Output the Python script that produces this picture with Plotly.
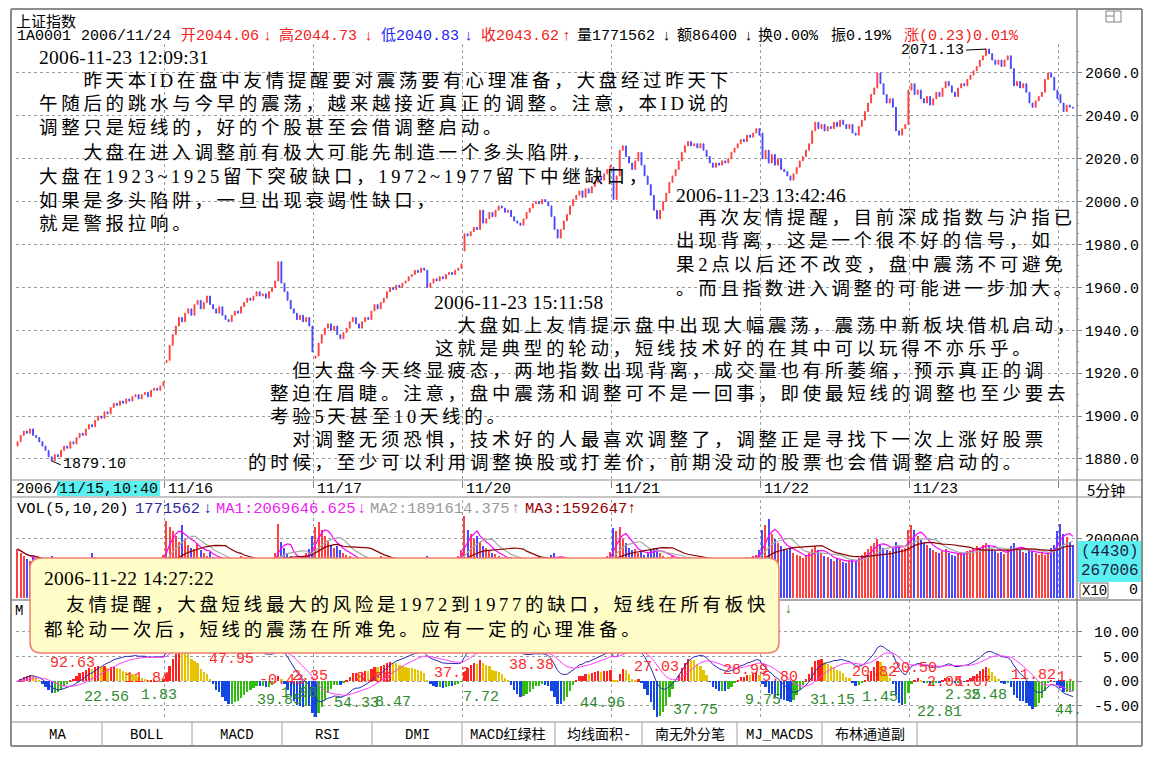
import numpy as np
import pandas as pd
import plotly.graph_objects as go

# page shows the figure with an 8px body margin, so the figure is a bit smaller
PAGE_OFF = 8
W, H = 1135, 741

# ------------------------------------------------------------------ data
day_names = ["11/15", "11/16", "11/17", "11/20", "11/21", "11/22", "11/23", "11/24"]
day_first_open = [1886.0, 1925.0, 1927.0, 1977.0, 2016.0, 2032.0, 2052.0, 2050.0]

close_1115 = [1888, 1891, 1893, 1892, 1894, 1891, 1890, 1888, 1886, 1884,
              1881, 1879.10, 1882, 1881, 1884, 1886, 1885, 1888, 1887, 1890,
              1892, 1891, 1894, 1896, 1895, 1898, 1900, 1899, 1902, 1901,
              1904, 1906, 1905, 1907, 1906, 1908, 1907, 1909, 1910, 1908,
              1910, 1911, 1909, 1912, 1913, 1912, 1914, 1916]
close_1116 = [1926, 1933, 1938, 1942, 1946, 1944, 1948, 1950, 1947, 1952,
              1954, 1950, 1953, 1956, 1952, 1950, 1948, 1951, 1947, 1945,
              1944, 1947, 1949, 1948, 1951, 1953, 1955, 1954, 1956, 1958,
              1956, 1957, 1955, 1958, 1960, 1963, 1972, 1962, 1958, 1954,
              1950, 1948, 1945, 1947, 1944, 1946, 1942, 1930]
close_1117 = [1928, 1934, 1938, 1941, 1943, 1940, 1942, 1938, 1936, 1939,
              1941, 1944, 1946, 1943, 1941, 1944, 1946, 1945, 1949, 1952,
              1950, 1953, 1955, 1958, 1960, 1959, 1961, 1960, 1962, 1963,
              1965, 1966, 1968, 1967, 1969, 1968, 1960, 1962, 1964, 1963,
              1965, 1964, 1966, 1967, 1966, 1968, 1969, 1971]
close_1120 = [1985, 1984, 1986, 1988, 1987, 1996, 1990, 1992, 1995, 1993,
              1996, 1998, 1997, 1995, 1996, 1993, 1991, 1990, 1989, 1992,
              1995, 1997, 1999, 2000, 1999, 2001, 2000, 1998, 1993, 1987,
              1983, 1987, 1991, 1994, 1998, 2001, 2003, 2005, 2002, 2006,
              2004, 2007, 2009, 2011, 2010, 2013, 2015, 2017]
close_1121 = [2001, 2012, 2024, 2026, 2021, 2018, 2015, 2019, 2023, 2017,
              2012, 2008, 2003, 1996, 1992, 1996, 2000, 2004, 2009, 2012,
              2015, 2019, 2023, 2026, 2028, 2026, 2027, 2025, 2027, 2024,
              2021, 2018, 2016, 2018, 2017, 2019, 2018, 2020, 2023, 2025,
              2027, 2029, 2028, 2031, 2030, 2032, 2034, 2031]
close_1122 = [2020, 2024, 2018, 2022, 2017, 2020, 2015, 2014, 2012, 2010,
              2013, 2016, 2019, 2021, 2024, 2027, 2033, 2037, 2034, 2036,
              2033, 2035, 2034, 2037, 2035, 2038, 2036, 2034, 2036, 2032,
              2031, 2035, 2038, 2042, 2046, 2050, 2053, 2060, 2055, 2050,
              2046, 2048, 2044, 2033, 2031, 2034, 2036, 2052]
close_1123 = [2055, 2050, 2052, 2048, 2046, 2049, 2045, 2048, 2051, 2049,
              2053, 2056, 2054, 2051, 2049, 2053, 2055, 2054, 2057, 2059,
              2061, 2063, 2066, 2068, 2071.13, 2069, 2066, 2064, 2066, 2063,
              2066, 2068, 2062, 2054, 2056, 2053, 2055, 2051, 2046, 2044,
              2047, 2049, 2051, 2057, 2060, 2058, 2052, 2048]
close_1124 = [2046, 2042, 2045, 2044.06, 2043.62]

vol_1115 = [165, 150, 142, 130, 125, 138, 120, 112, 118, 126,
            132, 140, 128, 115, 108, 112, 104, 98, 110, 102,
            96, 94, 105, 99, 150, 138, 126, 118, 112, 106,
            100, 96, 104, 98, 92, 95, 90, 97, 102, 94,
            98, 104, 108, 112, 118, 122, 130, 145]
vol_1116 = [260, 240, 225, 210, 190, 245, 200, 180, 170, 165,
            185, 160, 150, 142, 155, 138, 130, 126, 120, 132,
            118, 112, 124, 116, 140, 130, 122, 128, 118, 110,
            115, 108, 112, 120, 130, 150, 250, 190, 170, 150,
            140, 132, 128, 136, 140, 150, 165, 210]
vol_1117 = [240, 255, 230, 210, 195, 180, 170, 175, 160, 150,
            145, 140, 135, 128, 122, 130, 118, 112, 120, 125,
            135, 140, 130, 122, 132, 124, 118, 112, 108, 115,
            120, 112, 106, 110, 118, 125, 140, 128, 118, 112,
            108, 115, 120, 124, 130, 135, 142, 160]
vol_1120 = [275, 230, 215, 200, 210, 190, 175, 168, 160, 150,
            148, 140, 135, 130, 126, 138, 132, 125, 120, 128,
            135, 130, 122, 116, 140, 132, 126, 130, 145, 150,
            138, 130, 124, 120, 118, 115, 110, 114, 120, 116,
            112, 118, 124, 130, 126, 135, 140, 155]
vol_1121 = [235, 225, 240, 200, 185, 170, 160, 165, 150, 155,
            145, 150, 160, 170, 165, 150, 140, 135, 138, 142,
            135, 130, 125, 128, 132, 128, 120, 116, 112, 118,
            125, 120, 114, 110, 108, 112, 118, 115, 120, 126,
            130, 128, 134, 138, 132, 140, 145, 160]
vol_1122 = [230, 245, 265, 215, 200, 185, 175, 165, 160, 170,
            150, 145, 140, 135, 142, 150, 165, 175, 160, 150,
            142, 138, 130, 126, 132, 128, 122, 118, 124, 130,
            126, 135, 145, 155, 165, 175, 185, 200, 180, 170,
            160, 158, 170, 190, 175, 165, 170, 230]
vol_1123 = [245, 230, 210, 195, 185, 178, 170, 162, 155, 150,
            158, 165, 150, 145, 140, 148, 155, 150, 158, 162,
            170, 175, 168, 180, 185, 176, 165, 158, 150, 155,
            148, 160, 175, 185, 170, 162, 155, 150, 165, 158,
            150, 145, 152, 145, 155, 170, 180, 225]
vol_1124 = [250, 215, 205, 190, 177]

header_title = "上证指数"
header_parts = [("1A0001", "k"), ("2006/11/24", "k"),
                ("开2044.06", "r"), ("↓", "r"), ("高2044.73", "r"), ("↓", "r"),
                ("低2040.83", "b"), ("↓", "b"), ("收2043.62", "r"), ("↑", "r"),
                ("量1771562", "k"), ("↓", "k"), ("额86400", "k"), ("↓", "k"),
                ("换0.00%", "k"), ("振0.19%", "k"), ("涨(0.23)0.01%", "r")]
vol_title_parts = [("VOL(5,10,20)", "k"), ("1771562", "n"), ("↓", "n"),
                   ("MA1:2069646.625", "m"), ("↓", "m"), ("MA2:1891614.375", "g"),
                   ("↑", "g"), ("MA3:1592647", "d"), ("↑", "d")]
vol_axis_info = ["(4430)", "267006"]
vol_tick_text = "200000"
peak_label = "2071.13"
low_label = "1879.10"
period_label = "5分钟"
cursor_year = "2006/"
cursor_time = "11/15,10:40"

macd_red_labels = ["92.63", "11.84", "47.95", "-0.43", "2.35", "8.09", "37.3", "38.38",
                   "27.03", "28.99", "5.80", "20.82", "20.50", "2.05", "1.07", "11.82", "1."]
macd_green_labels = ["22.56", "1.83", "39.85", "1.96", "54.33", "8.47", "7.72", "44.96",
                     "37.75", "9.75", "31.15", "1.45", "22.81", "2.35", "2.48", "44."]

tab_names = ["MA", "BOLL", "MACD", "RSI", "DMI", "MACD红绿柱", "均线面积-",
             "南无外分笔", "MJ_MACDS", "布林通道副"]

note_a = ["2006-11-23 12:09:31",
          "\u3000\u3000昨天本ID在盘中友情提醒要对震荡要有心理准备，大盘经过昨天下",
          "午随后的跳水与今早的震荡，越来越接近真正的调整。注意，本ID说的",
          "调整只是短线的，好的个股甚至会借调整启动。",
          "\u3000\u3000大盘在进入调整前有极大可能先制造一个多头陷阱，",
          "大盘在1923~1925留下突破缺口，1972~1977留下中继缺口，",
          "如果是多头陷阱，一旦出现衰竭性缺口，",
          "就是警报拉响。"]
note_b = ["2006-11-23 13:42:46",
          "\u3000再次友情提醒，目前深成指数与沪指已",
          "出现背离，这是一个很不好的信号，如",
          "果2点以后还不改变，盘中震荡不可避免",
          "。而且指数进入调整的可能进一步加大。"]
note_c = ["2006-11-23 15:11:58",
          "\u3000大盘如上友情提示盘中出现大幅震荡，震荡中新板块借机启动，",
          "这就是典型的轮动，短线技术好的在其中可以玩得不亦乐乎。",
          "\u3000但大盘今天终显疲态，两地指数出现背离，成交量也有所萎缩，预示真正的调",
          "整迫在眉睫。注意，盘中震荡和调整可不是一回事，即使最短线的调整也至少要去",
          "考验5天甚至10天线的。",
          "\u3000对调整无须恐惧，技术好的人最喜欢调整了，调整正是寻找下一次上涨好股票",
          "的时候，至少可以利用调整换股或打差价，前期没动的股票也会借调整启动的。"]
note_d = ["2006-11-22 14:27:22",
          "\u3000友情提醒，大盘短线最大的风险是1972到1977的缺口，短线在所有板快",
          "都轮动一次后，短线的震荡在所难免。应有一定的心理准备。"]

# ------------------------------------------------------------------ build series
closes_by_day = [close_1115, close_1116, close_1117, close_1120,
                 close_1121, close_1122, close_1123, close_1124]
vols_by_day = [vol_1115, vol_1116, vol_1117, vol_1120,
               vol_1121, vol_1122, vol_1123, vol_1124]
opens, closes, vols = [], [], []
for d, cl in enumerate(closes_by_day):
    prev = day_first_open[d]
    for c in cl:
        opens.append(prev)
        closes.append(c)
        prev = c
    vols.extend(vols_by_day[d])
opens = np.array(opens, float)
closes = np.array(closes, float)
vols = np.array(vols, float)
highs = np.maximum(opens, closes)
lows = np.minimum(opens, closes)
n = len(closes)
xi = np.arange(n)
bars_per_day = len(close_1115)
boundaries = [bars_per_day * (d + 1) - 0.5 for d in range(len(closes_by_day) - 1)]

UP, DN = "#FF4040", "#4848FF"
bar_cols = [UP if c >= o else DN for o, c in zip(opens, closes)]

vs = pd.Series(vols)
ma5, ma10, ma20 = (vs.rolling(k, min_periods=1).mean() for k in (5, 10, 20))

cs = pd.Series(closes)
dif = cs.ewm(span=12, adjust=False).mean() - cs.ewm(span=26, adjust=False).mean()
dea = dif.ewm(span=9, adjust=False).mean()
hist = 2 * (dif - dea)
mcols = []
for i, h in enumerate(hist):
    p = hist[i - 1] if i > 0 else h
    if h >= 0:
        mcols.append("#FF2020" if h >= p else "#E6C300")
    else:
        mcols.append("#1446E6" if h <= p else "#33BB11")

# ------------------------------------------------------------------ helpers
MONO = "Liberation Mono, Noto Sans CJK SC, monospace"
SERIF = "Liberation Serif, Noto Sans CJK SC, serif"
CJK = "Noto Sans CJK SC, Liberation Mono"
GRID = "#9C9C9C"
FRAME = "#8C8C8C"
COLORS = {"k": "#000000", "r": "#F52020", "b": "#2424F0", "n": "#2B2B9A",
          "m": "#EE22EE", "g": "#9A9A9A", "d": "#990000"}


def X(px):
    return (px - PAGE_OFF) / W


def Y(py):
    return 1 - (py - PAGE_OFF) / H


annotations = []
shapes = []


def txt(s, px, py, size=15, color="#000", family=MONO, anchor="left", **kw):
    d = dict(text=s, x=X(px), y=Y(py), xref="paper", yref="paper", xanchor=anchor,
             yanchor="middle", showarrow=False, font=dict(size=size, color=color, family=family))
    d.update(kw)
    annotations.append(d)


def note(s, px, py, size=18.5, ls=3.7, family=SERIF):
    txt('<span style="letter-spacing:%.1fpx">%s</span>' % (ls, s), px, py, size=size, family=family)


def line(x0, y0, x1, y1, color=FRAME, width=1):
    shapes.append(dict(type="line", xref="paper", yref="paper", x0=X(x0), y0=Y(y0),
                       x1=X(x1), y1=Y(y1), line=dict(color=color, width=width), layer="above"))


def rect(x0, y0, x1, y1, fill, color=None, width=0):
    shapes.append(dict(type="rect", xref="paper", yref="paper", x0=X(x0), y0=Y(y0),
                       x1=X(x1), y1=Y(y1), fillcolor=fill,
                       line=dict(color=color or fill, width=width), layer="above"))


def rounded(x0, y0, x1, y1, r):
    rx = r / W
    ry = r / H
    a, b, c, d = X(x0), Y(y0), X(x1), Y(y1)
    return (f"M {a + rx},{b} L {c - rx},{b} Q {c},{b} {c},{b - ry} "
            f"L {c},{d + ry} Q {c},{d} {c - rx},{d} "
            f"L {a + rx},{d} Q {a},{d} {a},{d + ry} "
            f"L {a},{b - ry} Q {a},{b} {a + rx},{b} Z")


# ------------------------------------------------------------------ traces
fig = go.Figure()
fig.add_trace(go.Candlestick(
    x=xi, open=opens, high=highs, low=lows, close=closes,
    increasing=dict(line=dict(color=UP, width=1), fillcolor=UP),
    decreasing=dict(line=dict(color=DN, width=1), fillcolor=DN),
    whiskerwidth=0, hoverinfo="skip", xaxis="x", yaxis="y"))
fig.add_trace(go.Bar(x=xi, y=vols, marker=dict(color=bar_cols, line=dict(width=0)),
                     width=0.4, xaxis="x2", yaxis="y2", hoverinfo="skip"))
for s, c in ((ma5, "#FF00FF"), (ma10, "#A8A8A8"), (ma20, "#8B0000")):
    fig.add_trace(go.Scatter(x=xi, y=s, mode="lines", line=dict(color=c, width=1.2),
                             xaxis="x2", yaxis="y2", hoverinfo="skip"))
fig.add_trace(go.Bar(x=xi, y=hist, marker=dict(color=mcols, line=dict(width=0)),
                     width=0.75, xaxis="x3", yaxis="y3", hoverinfo="skip"))
fig.add_trace(go.Scatter(x=xi, y=dif, mode="lines", line=dict(color="#2828B4", width=1),
                         xaxis="x3", yaxis="y3", hoverinfo="skip"))
fig.add_trace(go.Scatter(x=xi, y=dea, mode="lines", line=dict(color="#FF40FF", width=1),
                         xaxis="x3", yaxis="y3", hoverinfo="skip"))

# ------------------------------------------------------------------ axes
xdom = [X(16), X(1076)]
xcommon = dict(domain=xdom, range=[-0.5, n], tickvals=boundaries, showticklabels=False,
               showgrid=True, gridcolor=GRID, griddash="dot", gridwidth=1,
               zeroline=False, showline=False, fixedrange=True)
ycommon = dict(side="right", showgrid=True, gridcolor=GRID, griddash="dot", gridwidth=1,
               zeroline=False, showline=False, ticks="outside", ticklen=5,
               tickcolor="#808080", tickfont=dict(family=MONO, size=15, color="#000"),
               fixedrange=True)

fig.update_layout(
    width=W, height=H, margin=dict(l=0, r=0, t=0, b=0),
    paper_bgcolor="white", plot_bgcolor="white", showlegend=False,
    hovermode=False, bargap=0, boxgap=0.6,
    xaxis=dict(**xcommon, anchor="y", ticks="outside", ticklen=7, tickcolor="#808080",
               rangeslider=dict(visible=False)),
    xaxis2=dict(**xcommon, anchor="y2", matches="x", ticks=""),
    xaxis3=dict(**xcommon, anchor="y3", matches="x", ticks=""),
    yaxis=dict(**ycommon, domain=[Y(480), Y(44)], range=[1870.2, 2073.5], anchor="x",
               tickvals=list(range(1880, 2061, 20)), tickformat=".1f",
               minor=dict(ticks="outside", ticklen=2, dtick=5, tickcolor="#A0A0A0",
                          showgrid=False)),
    yaxis2=dict(**ycommon, domain=[Y(598), Y(500)], range=[0, 330], anchor="x2",
                tickvals=[200], ticktext=[vol_tick_text]),
    yaxis3=dict(**ycommon, domain=[Y(720), Y(600)], range=[-7.89, 16.40], anchor="x3",
                tickvals=[10, 5, 0, -5],
                ticktext=["10.00", "\u00a05.00", "\u00a00.00", "-5.00"],
                ticklabelstandoff=9),
)

# ------------------------------------------------------------------ frame
line(11, 9, 1142, 9, width=2)
line(11, 9, 11, 746, width=2)
line(1142, 9, 1142, 746, width=2)
line(11, 746, 1142, 746, width=2)
line(1077, 9, 1077, 746, width=1.5)
line(11, 480, 1142, 480)
line(11, 497, 1142, 497)
line(11, 600, 1142, 600, width=1.5)
line(11, 722, 1142, 722)
rect(1106, 11, 1121, 22, "rgba(0,0,0,0)", color="#808080", width=1)
line(1114, 11, 1114, 22, color="#808080")
line(1106, 16, 1114, 16, color="#808080")

# ------------------------------------------------------------------ header
txt(header_title, 14, 20, size=15, family=CJK)
hdr_x = [15, 79, 179, 261, 277, 362, 379, 462, 479, 560, 575, 660, 675, 742, 756, 829, 902]
for (s, c), px in zip(header_parts, hdr_x):
    txt(s, px, 36, size=15, color=COLORS[c])

# date bar
txt(cursor_year, 14, 489, size=15)
rect(57, 481, 160, 496, "#5AF0F0")
txt(cursor_time, 57, 489, size=15)
for b, lab in zip(boundaries, day_names[1:-1]):
    annotations.append(dict(text=lab, x=b, y=Y(489), xref="x", yref="paper", xanchor="left",
                            yanchor="middle", showarrow=False, xshift=1,
                            font=dict(size=15, family=MONO, color="#000")))
txt(period_label, 1085, 489, size=15, family=CJK)

# volume title
vol_x = [15, 133, 201, 214, 355, 368, 509, 523, 625]
for (s, c), px in zip(vol_title_parts, vol_x):
    txt(s, px, 509, size=15.5, color=COLORS[c])

# volume axis extras
rect(1078, 541, 1141, 582, "#5AF0F0")
txt(vol_axis_info[0], 1110, 552, size=16, color="#1E1E46", anchor="center")
txt(vol_axis_info[1], 1110, 571, size=16, color="#1E1E46", anchor="center")
rect(1080, 583, 1108, 598, "white", color="#707070", width=1)
txt("X10", 1094, 591, size=14, anchor="center")
txt("0", 1140, 590, size=15, anchor="right")

# price extremes
pk = int(np.argmax(highs))
lo = int(np.argmin(lows))
annotations.append(dict(text=peak_label, x=pk, y=highs[pk], xref="x", yref="y",
                        showarrow=True, arrowhead=0, arrowwidth=1, arrowcolor="#000",
                        ax=-20, ay=1, xanchor="right", yanchor="middle",
                        font=dict(size=15, family=MONO, color="#000")))
annotations.append(dict(text=low_label, x=lo, y=lows[lo], xref="x", yref="y",
                        showarrow=True, arrowhead=0, arrowwidth=1, arrowcolor="#000",
                        ax=9, ay=4, xanchor="left", yanchor="middle",
                        font=dict(size=15, family=MONO, color="#000")))

# notes
pos_a = [(37, 58), (37, 81), (37, 104), (37, 128), (37, 153), (37, 177), (37, 201), (37, 224)]
pos_b = [(674, 195), (674, 218), (674, 241), (674, 265), (674, 289)]
pos_c = [(432, 302), (433, 326), (433, 349), (268, 371), (268, 394), (268, 417),
         (268, 440), (246, 463)]
for lines_, pos in ((note_a, pos_a), (note_b, pos_b), (note_c, pos_c)):
    for i, (s, (px, py)) in enumerate(zip(lines_, pos)):
        if i == 0:
            note(s, px, py, size=19.5, ls=0.3)
        else:
            note(s, px, py)

# yellow pop-up box
shapes.append(dict(type="path", xref="paper", yref="paper", path=rounded(30, 558, 779, 653, 11),
                   fillcolor="#FFFDC8", line=dict(color="#EE8070", width=1.5), layer="above"))
pos_d = [(42, 578), (42, 605), (42, 630)]
for i, (s, (px, py)) in enumerate(zip(note_d, pos_d)):
    if i == 0:
        note(s, px, py, size=19.5, ls=0.3)
    else:
        note(s, px, py)

# MACD panel bits
txt("M", 13, 611, size=14)
txt("↓", 782, 609, size=14, color="#2E8B22")
red_pos = [(48, 663), (123, 678), (207, 659), (257, 680), (290, 676), (354, 678),
           (432, 673), (507, 665), (632, 667), (721, 670), (760, 677), (850, 672),
           (890, 668), (925, 682), (953, 682), (1009, 675), (1055, 677)]
green_pos = [(82, 697), (139, 695), (255, 700), (279, 693), (332, 703), (373, 702),
             (461, 697), (578, 703), (671, 710), (743, 700), (808, 700), (860, 697),
             (915, 712), (943, 695), (969, 695), (1053, 710)]
for s, (px, py) in zip(macd_red_labels, red_pos):
    txt(s, px, py, size=15, color="#FF2A2A")
for s, (px, py) in zip(macd_green_labels, green_pos):
    txt(s, px, py, size=15, color="#2E8B2E")

# tab bar
tab_edges = [12, 102, 192, 282, 372, 462, 555, 642, 737, 822, 917]
for i, name in enumerate(tab_names):
    x0, x1 = tab_edges[i], tab_edges[i + 1]
    txt(name, (x0 + x1) / 2, 735, size=14, anchor="center")
    line(x1, 722, x1, 746, color="#A0A0A0")

fig.update_layout(annotations=annotations, shapes=shapes)
fig.write_html("out.html")
